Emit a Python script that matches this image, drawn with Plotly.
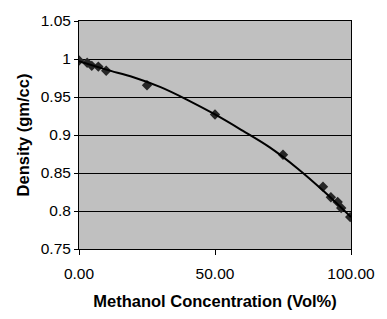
import plotly.graph_objects as go

# Measured data points
conc = [0, 3, 4.7, 7.1, 10, 25, 50, 75, 89.7, 92.6, 95.1, 96.4, 99.7]
density = [0.998, 0.995, 0.991, 0.990, 0.9845, 0.9655, 0.927, 0.874, 0.832, 0.818, 0.812, 0.804, 0.792]

# Trendline points
trend_x = [0, 10, 20, 30, 40, 50, 60, 70, 80, 90, 100]
trend_y = [0.997, 0.986, 0.976, 0.963, 0.946, 0.927, 0.906, 0.884, 0.857, 0.826, 0.792]

x_ticks = [0, 50, 100]
y_ticks = [0.75, 0.8, 0.85, 0.9, 0.95, 1.0, 1.05]

fig = go.Figure()
fig.add_trace(go.Scatter(x=conc, y=density, mode="markers",
                         marker=dict(symbol="diamond", size=8, color="#262626"),
                         showlegend=False))
fig.add_trace(go.Scatter(x=trend_x, y=trend_y, mode="lines",
                         line=dict(color="black", width=2, shape="spline"),
                         showlegend=False))

font = "Liberation Sans, Arial, sans-serif"
fig.update_layout(
    width=387, height=319,
    margin=dict(l=79, r=31, t=15, b=67),
    paper_bgcolor="white", plot_bgcolor="#c0c0c0",
    font=dict(family=font, size=15.5, color="black"),
    xaxis=dict(range=[0, 100], tickvals=x_ticks, tickformat=".2f",
               showgrid=False, zeroline=False, showline=True, linecolor="black",
               linewidth=1, mirror=True, ticks="outside", ticklen=5, tickcolor="black",
               ticklabelstandoff=5,
               title=dict(text="<b>Methanol Concentration (Vol%)</b>", font=dict(size=16.5), standoff=14)),
    yaxis=dict(range=[0.75, 1.05], tickvals=y_ticks, showgrid=True, gridcolor="black",
               gridwidth=1, zeroline=False, showline=True, linecolor="black", linewidth=1,
               mirror=True, ticks="outside", ticklen=4, tickcolor="black",
               title=dict(text="<b>Density (gm/cc)</b>", font=dict(size=16.5), standoff=6)),
)
fig.write_html("out.html", config={"displayModeBar": False},
               post_script="document.body.style.margin='0';")
